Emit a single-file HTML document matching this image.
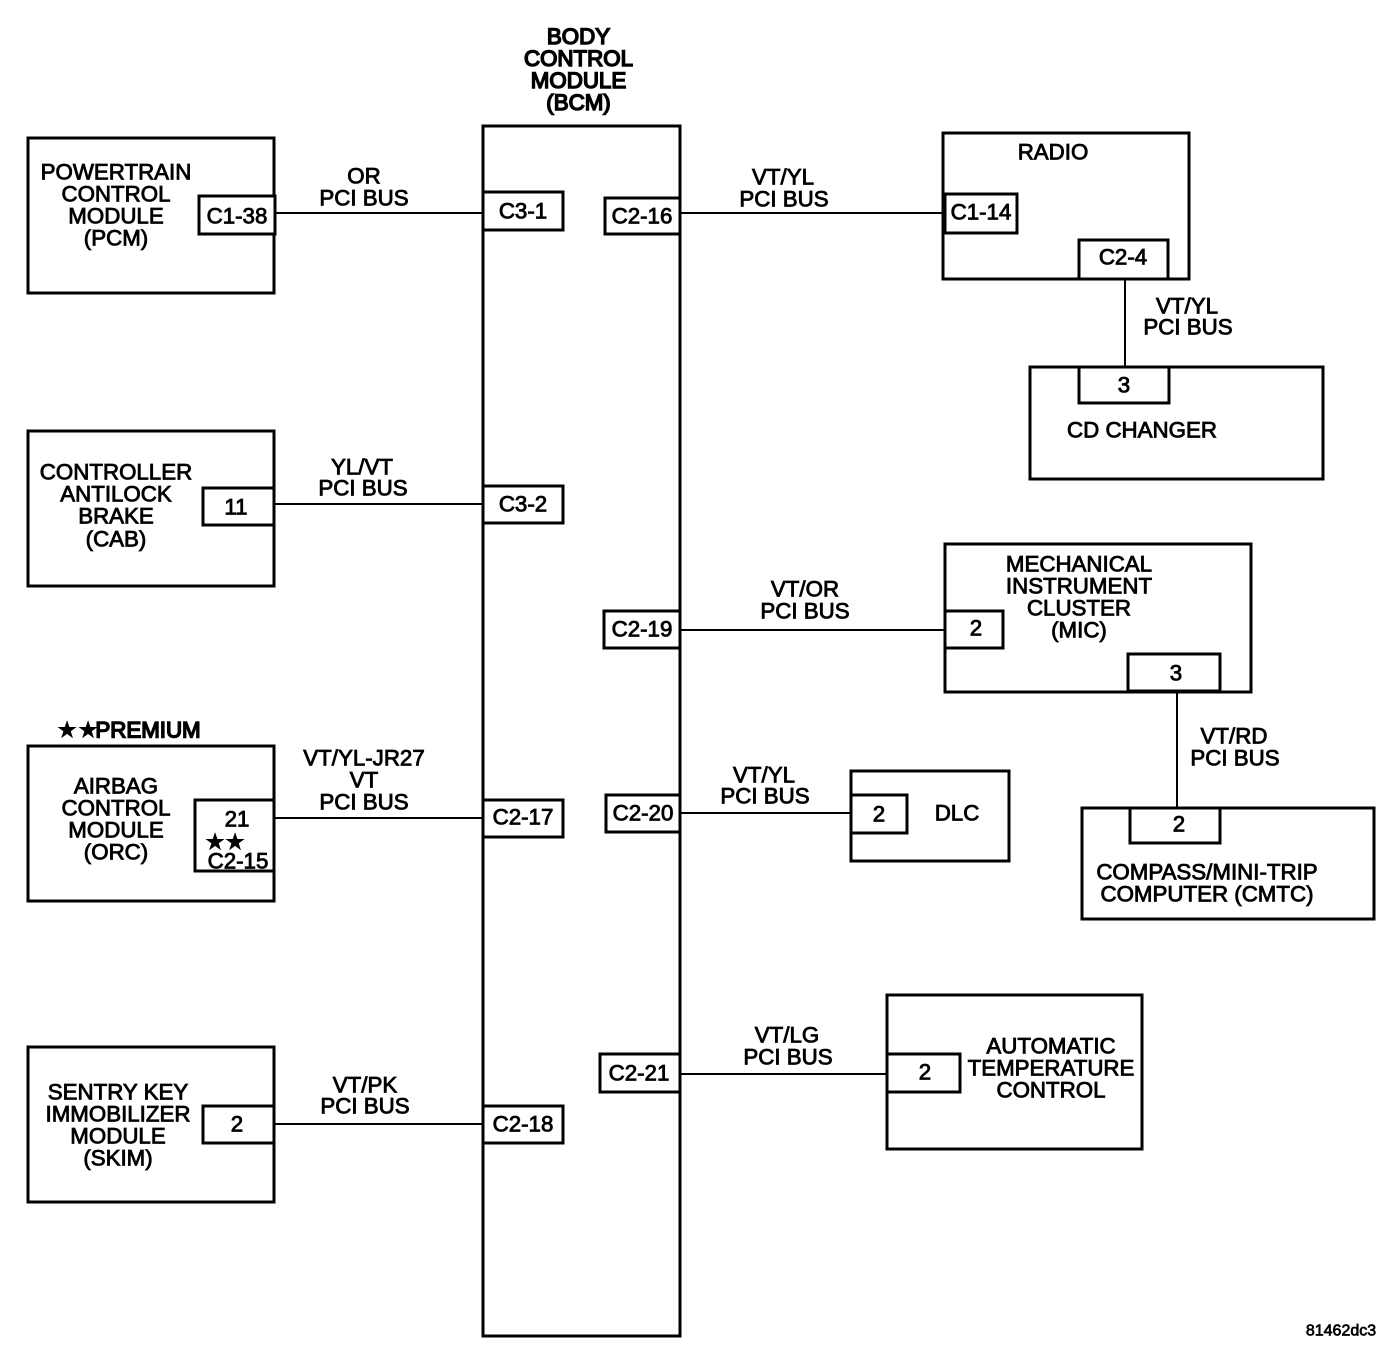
<!DOCTYPE html>
<html><head><meta charset="utf-8"><style>
html,body{margin:0;padding:0;background:#fff}
svg{display:block}
text{font-family:"Liberation Sans",sans-serif;font-size:22.3px;fill:#000;stroke:#000;stroke-width:.85px;text-anchor:middle}
text.h{stroke-width:1.5px}
text.s{font-size:23px;stroke-width:.5px}
rect{fill:#fff;stroke:#000;stroke-width:3px}
line{stroke:#000;stroke-width:2px}
</style></head><body>
<svg width="1392" height="1358" viewBox="0 0 1392 1358" xmlns="http://www.w3.org/2000/svg">
<!-- connectors -->
<line x1="275" y1="213" x2="483" y2="213"/>
<line x1="275" y1="504" x2="483" y2="504"/>
<line x1="275" y1="818" x2="483" y2="818"/>
<line x1="275" y1="1124" x2="483" y2="1124"/>
<line x1="680" y1="213" x2="945" y2="213"/>
<line x1="680" y1="630" x2="945" y2="630"/>
<line x1="680" y1="813" x2="851" y2="813"/>
<line x1="680" y1="1074" x2="888" y2="1074"/>
<line x1="1125" y1="279" x2="1125" y2="367"/>
<line x1="1177" y1="691" x2="1177" y2="808"/>
<!-- BCM -->
<rect x="483" y="126" width="197" height="1210"/>
<text class="h" x="578.5" y="44">BODY</text>
<text class="h" x="578.5" y="66">CONTROL</text>
<text class="h" x="578.5" y="88">MODULE</text>
<text class="h" x="578.5" y="110">(BCM)</text>
<!-- left boxes -->
<rect x="28" y="138" width="246" height="155"/>
<rect x="199" y="196" width="76" height="38"/>
<rect x="28" y="431" width="246" height="155"/>
<rect x="203" y="488" width="71" height="37"/>
<rect x="28" y="746" width="246" height="155"/>
<rect x="195" y="800" width="79" height="71"/>
<rect x="28" y="1047" width="246" height="155"/>
<rect x="203" y="1106" width="71" height="37"/>
<!-- BCM pins -->
<rect x="483" y="192" width="80" height="38"/>
<rect x="483" y="486" width="80" height="37"/>
<rect x="483" y="800" width="80" height="37"/>
<rect x="483" y="1106" width="80" height="37"/>
<rect x="605" y="198" width="75" height="36"/>
<rect x="604" y="611" width="76" height="37"/>
<rect x="606" y="795" width="74" height="37"/>
<rect x="600" y="1054" width="80" height="38"/>
<!-- right boxes -->
<rect x="943" y="133" width="246" height="146"/>
<rect x="945" y="194" width="72" height="39"/>
<rect x="1079" y="240" width="89" height="39"/>
<rect x="1030" y="367" width="293" height="112"/>
<rect x="1079" y="367" width="90" height="36"/>
<rect x="945" y="544" width="306" height="148"/>
<rect x="945" y="611" width="58" height="37"/>
<rect x="1128" y="654" width="92" height="37"/>
<rect x="851" y="771" width="158" height="90"/>
<rect x="851" y="795" width="56" height="38"/>
<rect x="1082" y="808" width="292" height="111"/>
<rect x="1130" y="808" width="90" height="35"/>
<rect x="887" y="995" width="255" height="154"/>
<rect x="887" y="1054" width="73" height="38"/>
<g transform="translate(0,-.4)">
<text x="116" y="180">POWERTRAIN</text><text x="116" y="202">CONTROL</text><text x="116" y="224">MODULE</text><text x="116" y="246">(PCM)</text>
<text x="237" y="224">C1-38</text>
<text x="116" y="480">CONTROLLER</text><text x="116" y="502">ANTILOCK</text><text x="116" y="524">BRAKE</text><text x="116" y="547">(CAB)</text>
<text x="236" y="515">11</text>
<text x="116" y="794">AIRBAG</text><text x="116" y="816">CONTROL</text><text x="116" y="838">MODULE</text><text x="116" y="860">(ORC)</text>
<text x="237" y="827">21</text>
<text class="s" x="215" y="850">★</text><text class="s" x="235" y="850">★</text>
<text x="238" y="869">C2-15</text>
<text class="s" x="67" y="738">★</text><text class="s" x="88" y="738">★</text>
<text class="h" x="148" y="738">PREMIUM</text>
<text x="118" y="1100">SENTRY KEY</text><text x="118" y="1122">IMMOBILIZER</text><text x="118" y="1144">MODULE</text><text x="118" y="1166">(SKIM)</text>
<text x="237" y="1132">2</text>
<text x="523" y="219">C3-1</text>
<text x="523" y="512">C3-2</text>
<text x="523" y="825">C2-17</text>
<text x="523" y="1132">C2-18</text>
<text x="642" y="224">C2-16</text>
<text x="642" y="637">C2-19</text>
<text x="643" y="821">C2-20</text>
<text x="639" y="1081">C2-21</text>
<!-- wire labels -->
<text x="364" y="184">OR</text><text x="364" y="206">PCI BUS</text>
<text x="362" y="475">YL/VT</text><text x="363" y="496">PCI BUS</text>
<text x="364" y="766">VT/YL-JR27</text><text x="364" y="788">VT</text><text x="364" y="810">PCI BUS</text>
<text x="365" y="1093">VT/PK</text><text x="365" y="1114">PCI BUS</text>
<text x="783" y="185">VT/YL</text><text x="784" y="207">PCI BUS</text>
<text x="805" y="597">VT/OR</text><text x="805" y="619">PCI BUS</text>
<text x="764" y="783">VT/YL</text><text x="765" y="804">PCI BUS</text>
<text x="787" y="1043">VT/LG</text><text x="788" y="1065">PCI BUS</text>
<text x="1187" y="314">VT/YL</text><text x="1188" y="335">PCI BUS</text>
<text x="1234" y="744">VT/RD</text><text x="1235" y="766">PCI BUS</text>
<!-- right labels -->
<text x="1053" y="160">RADIO</text>
<text x="981" y="220">C1-14</text>
<text x="1123" y="265">C2-4</text>
<text x="1124" y="393">3</text>
<text x="1142" y="438">CD CHANGER</text>
<text x="1079" y="572">MECHANICAL</text><text x="1079" y="594">INSTRUMENT</text><text x="1079" y="616">CLUSTER</text><text x="1079" y="638">(MIC)</text>
<text x="976" y="636">2</text>
<text x="1176" y="681">3</text>
<text x="879" y="822">2</text>
<text x="957" y="821">DLC</text>
<text x="1179" y="832">2</text>
<text x="1207" y="880">COMPASS/MINI-TRIP</text><text x="1207" y="902">COMPUTER (CMTC)</text>
<text x="925" y="1080">2</text>
<text x="1051" y="1054">AUTOMATIC</text><text x="1051" y="1076">TEMPERATURE</text><text x="1051" y="1098">CONTROL</text>
<text x="1341" y="1336" style="font-size:16px;stroke-width:.7px">81462dc3</text>
</g>
</svg>
</body></html>
